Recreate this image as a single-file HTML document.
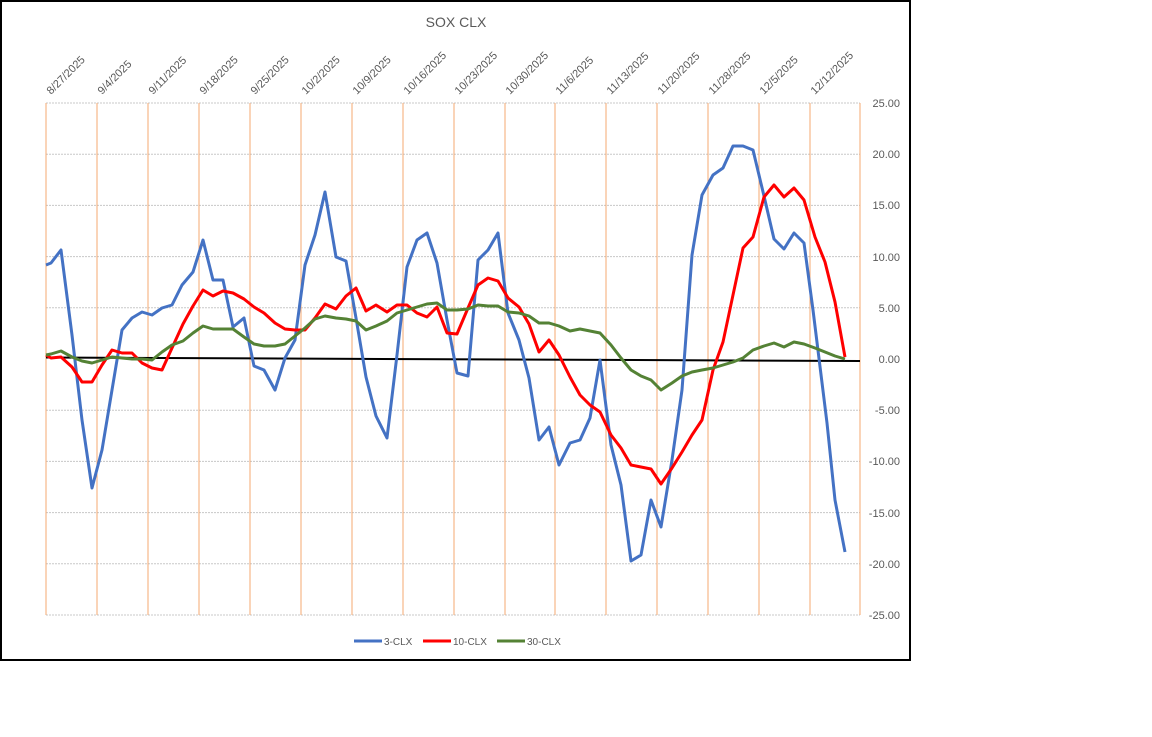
<!DOCTYPE html>
<html><head><style>body{margin:0;background:#fff}svg{display:block}</style></head><body>
<svg width="1152" height="737" xmlns="http://www.w3.org/2000/svg" font-family="Liberation Sans, sans-serif">
<rect x="1" y="1" width="909" height="659" fill="#fff" stroke="#000" stroke-width="2"/>
<text x="456" y="27" text-anchor="middle" font-size="14" fill="#595959">SOX CLX</text>
<g stroke="#c8c8c8" stroke-width="1" stroke-dasharray="2,1">
<line x1="46" y1="103" x2="860" y2="103"/><line x1="46" y1="154.2" x2="860" y2="154.2"/><line x1="46" y1="205.4" x2="860" y2="205.4"/><line x1="46" y1="256.6" x2="860" y2="256.6"/><line x1="46" y1="307.8" x2="860" y2="307.8"/><line x1="46" y1="410.2" x2="860" y2="410.2"/><line x1="46" y1="461.4" x2="860" y2="461.4"/><line x1="46" y1="512.6" x2="860" y2="512.6"/><line x1="46" y1="563.8" x2="860" y2="563.8"/><line x1="46" y1="615" x2="860" y2="615"/>
</g>
<g stroke="#f4a870" stroke-width="1">
<line x1="46" y1="103" x2="46" y2="615"/><line x1="97" y1="103" x2="97" y2="615"/><line x1="148" y1="103" x2="148" y2="615"/><line x1="199" y1="103" x2="199" y2="615"/><line x1="250" y1="103" x2="250" y2="615"/><line x1="301" y1="103" x2="301" y2="615"/><line x1="352" y1="103" x2="352" y2="615"/><line x1="403" y1="103" x2="403" y2="615"/><line x1="454" y1="103" x2="454" y2="615"/><line x1="505" y1="103" x2="505" y2="615"/><line x1="555" y1="103" x2="555" y2="615"/><line x1="606" y1="103" x2="606" y2="615"/><line x1="657" y1="103" x2="657" y2="615"/><line x1="708" y1="103" x2="708" y2="615"/><line x1="759" y1="103" x2="759" y2="615"/><line x1="810" y1="103" x2="810" y2="615"/><line x1="860" y1="103" x2="860" y2="615"/>
</g>
<g font-size="11" fill="#595959">
<text transform="translate(51,95) rotate(-45)">8/27/2025</text>
<text transform="translate(102,95) rotate(-45)">9/4/2025</text>
<text transform="translate(153,95) rotate(-45)">9/11/2025</text>
<text transform="translate(204,95) rotate(-45)">9/18/2025</text>
<text transform="translate(255,95) rotate(-45)">9/25/2025</text>
<text transform="translate(306,95) rotate(-45)">10/2/2025</text>
<text transform="translate(357,95) rotate(-45)">10/9/2025</text>
<text transform="translate(408,95) rotate(-45)">10/16/2025</text>
<text transform="translate(459,95) rotate(-45)">10/23/2025</text>
<text transform="translate(510,95) rotate(-45)">10/30/2025</text>
<text transform="translate(560,95) rotate(-45)">11/6/2025</text>
<text transform="translate(611,95) rotate(-45)">11/13/2025</text>
<text transform="translate(662,95) rotate(-45)">11/20/2025</text>
<text transform="translate(713,95) rotate(-45)">11/28/2025</text>
<text transform="translate(764,95) rotate(-45)">12/5/2025</text>
<text transform="translate(815,95) rotate(-45)">12/12/2025</text>
</g>
<g font-size="11" fill="#595959" text-anchor="end">
<text x="900" y="107">25.00</text><text x="900" y="158">20.00</text><text x="900" y="209">15.00</text><text x="900" y="261">10.00</text><text x="900" y="312">5.00</text><text x="900" y="363">0.00</text><text x="900" y="414">-5.00</text><text x="900" y="465">-10.00</text><text x="900" y="517">-15.00</text><text x="900" y="568">-20.00</text><text x="900" y="619">-25.00</text>
</g>
<line x1="46" y1="357.5" x2="860" y2="361" stroke="#000" stroke-width="2"/>
<g fill="none" stroke-width="3" stroke-linejoin="round">
<polyline stroke="#4472c4" points="46,265 51,263 61,250 72,335 82,420 92,488 102,450 112,390 122,330 132,318 142,312 152,315 162,308 172,305 182,285 193,272 203,240 213,280 223,280 233,327 244,318 254,366 264,370 275,390 285,358 295,340 305,265 315,235 325,192 336,257 346,261 356,318 366,377 376,416 387,438 397,355 407,267 417,240 427,233 437,263 447,320 457,373 468,376 478,260 488,250 498,233 508,313 519,340 529,378 539,440 549,427 559,465 570,443 580,440 590,418 600,360 611,445 621,485 631,561 641,555 651,500 661,527 672,460 682,390 692,255 702,195 713,175 723,168 733,146 743,146 753,150 764,196 774,239 784,249 794,233 804,243 813,310 827,423 835,500 845,552"/>
<polyline stroke="#ff0000" points="46,355 51,358 61,357 72,367 82,382 92,382 102,365 112,350 122,353 132,353 142,363 152,368 162,370 172,348 183,324 193,306 203,290 213,296 223,291 233,293 244,299 254,307 264,313 275,323 285,329 295,330 305,330 315,318 325,304 336,309 346,296 356,288 366,311 376,305 387,312 397,305 407,305 417,313 427,317 437,307 447,333 457,334 468,308 478,285 488,278 498,281 508,298 519,307 529,324 539,352 549,340 559,355 570,377 580,395 590,405 600,412 611,435 621,448 631,465 641,467 651,469 661,484 672,468 682,452 692,435 702,420 713,370 723,342 733,295 743,248 753,237 764,197 774,185 784,197 794,188 804,200 815,237 825,262 835,302 845,357"/>
<polyline stroke="#548235" points="46,355 51,354 61,351 72,357 82,361 92,363 102,360 112,357 122,358 132,359 142,359 152,360 162,352 172,345 183,341 193,333 203,326 213,329 223,329 233,329 244,337 254,344 264,346 275,346 285,344 295,336 305,328 315,319 325,316 336,318 346,319 356,321 366,330 376,326 387,321 397,313 407,310 417,307 427,304 437,303 447,310 457,310 468,309 478,305 488,306 498,306 508,312 519,313 529,316 539,323 549,323 559,326 570,331 580,329 590,331 600,333 611,345 621,358 631,370 641,376 651,380 661,390 672,383 682,376 692,372 702,370 713,368 723,365 733,362 743,358 753,350 764,346 774,343 784,347 794,342 804,344 815,348 825,352 835,356 845,359"/>
</g>
<g font-size="10" fill="#595959">
<line x1="354" y1="641" x2="382" y2="641" stroke="#4472c4" stroke-width="3"/><text x="384" y="645">3-CLX</text>
<line x1="423" y1="641" x2="451" y2="641" stroke="#ff0000" stroke-width="3"/><text x="453" y="645">10-CLX</text>
<line x1="497" y1="641" x2="525" y2="641" stroke="#548235" stroke-width="3"/><text x="527" y="645">30-CLX</text>
</g>
</svg>
</body></html>
